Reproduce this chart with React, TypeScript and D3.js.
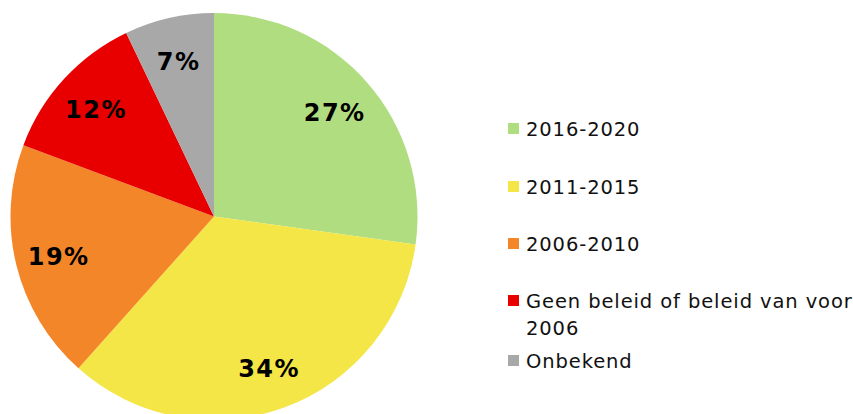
import React from "react";
import * as d3 from "d3";

const categories = ["2016-2020", "2011-2015", "2006-2010", "Geen beleid of beleid van voor 2006", "Onbekend"];
const legendLines = [["2016-2020"], ["2011-2015"], ["2006-2010"], ["Geen beleid of beleid van voor", "2006"], ["Onbekend"]];
const values = [27.2, 34.4, 19.1, 12.2, 7.1];
const valueLabels = ["27%", "34%", "19%", "12%", "7%"];
const colors = ["#B0DD80", "#F3E646", "#F4862A", "#E80000", "#A8A8A8"];

const W = 853;
const H = 414;
const cx = 214;
const cy = 216.5;
const R = 203.5;
const labelR = 160;

export default function App() {
  const pie = d3.pie<number>().sort(null).value((d) => d)(values);
  const arc = d3.arc<d3.PieArcDatum<number>>().innerRadius(0).outerRadius(R);
  const labelArc = d3.arc<d3.PieArcDatum<number>>().innerRadius(labelR).outerRadius(labelR);

  const legendX = 508;
  const legendTextX = 526;
  const rowTops = [129, 187, 244, 301, 361];
  const lineH = 27;
  const fs = 19.5;

  return (
    <svg width={W} height={H} style={{ position: "absolute", left: 0, top: 0, background: "#fff" }}>
      <g transform={`translate(${cx},${cy})`}>
        {pie.map((p, i) => (
          <path key={categories[i]} d={arc(p) || ""} fill={colors[i]} />
        ))}
        {pie.map((p, i) => {
          const [x, y] = labelArc.centroid(p);
          return (
            <text
              key={"l" + i}
              x={x}
              y={y + 2}
              textAnchor="middle"
              dominantBaseline="central"
              fontFamily="DejaVu Sans, Verdana, sans-serif"
              fontWeight="bold"
              fontSize={24}
              letterSpacing={1.5}
              fill="#000"
            >
              {valueLabels[i]}
            </text>
          );
        })}
      </g>
      <g>
        {legendLines.map((lines, i) => (
          <g key={"lg" + i}>
            <rect x={legendX} y={rowTops[i] - 6} width={11} height={11} fill={colors[i]} />
            {lines.map((ln, j) => (
              <text
                key={j}
                x={legendTextX}
                y={rowTops[i] + j * lineH}
                dominantBaseline="central"
                fontFamily="DejaVu Sans, Verdana, sans-serif"
                fontSize={fs}
                letterSpacing={0.9}
                fill="#111"
              >
                {ln}
              </text>
            ))}
          </g>
        ))}
      </g>
    </svg>
  );
}
